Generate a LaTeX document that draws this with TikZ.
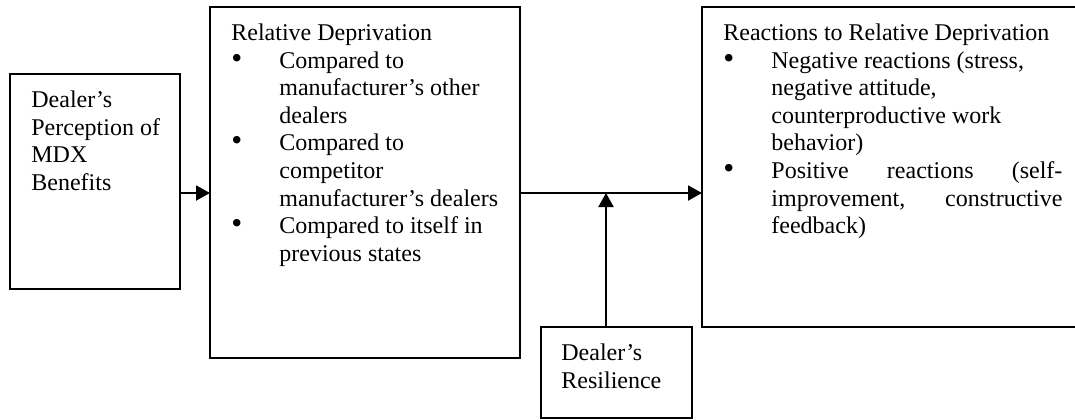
\documentclass[tikz,border=0pt]{standalone}
\usepackage{fontspec}
\setmainfont{Liberation Serif}
\usetikzlibrary{arrows.meta,positioning}

\newcommand{\bul}{\makebox[24pt][l]{\scalebox{1.3}{\textbullet}}}
\newcommand{\cont}{\hspace*{24pt}}

\begin{document}
\begin{tikzpicture}[x=0.5pt, y=-0.5pt,
		box/.style={draw, line width=1pt, anchor=north west, inner sep=0pt, outer sep=0pt},
		txt/.style={anchor=north west, inner sep=0pt, align=left, font={\fontsize{12}{13.8}\selectfont}},
		arr/.style={line width=1pt, -{Triangle[length=7pt, width=7.5pt]}}]
	\useasboundingbox (0,0) rectangle (1075,419);
	\clip (0,0) rectangle (1075,419);

	% boxes
	\node[box, minimum width=85pt, minimum height=107.5pt] (perc) at (10,74) {};
	\node[box, minimum width=155pt, minimum height=175.5pt] (rd) at (210,7) {};
	\node[box, minimum width=200pt, minimum height=160pt] (react) at (702,7) {};
	\node[box, minimum width=75.5pt, minimum height=45.5pt] (res) at (541,327) {};

	% texts
	\node[txt] (perc-text) at ([shift={(21,13.7)}]perc.north west) {\strut Dealer's\\Perception of\\MDX\\Benefits};
	\node[txt] (rd-text) at ([shift={(21,13.7)}]rd.north west) {\strut Relative Deprivation\\
		\bul Compared to\\
		\cont manufacturer's other\\
		\cont dealers\\
		\bul Compared to\\
		\cont competitor\\
		\cont manufacturer's dealers\\
		\bul Compared to itself in\\
		\cont previous states};
	\node[txt] (react-text) at ([shift={(21,13.7)}]react.north west) {\strut Reactions to Relative Deprivation\\
		\bul Negative reactions (stress,\\
		\cont negative attitude,\\
		\cont counterproductive work\\
		\cont behavior)\\
		\bul \makebox[145.5pt][s]{Positive reactions (self-}\\
		\cont \makebox[145.5pt][s]{improvement, constructive}\\
		\cont feedback)};
	\node[txt] (res-text) at ([shift={(20,13.7)}]res.north west) {\strut Dealer's\\Resilience};

	% arrows
	\coordinate (j) at (606,193);
	\draw[arr] (perc.east |- j) -- (rd.west |- j);
	\draw[arr] (rd.east |- j) -- (react.west |- j);
	\draw[arr] (j |- res.north) -- (j);
\end{tikzpicture}
\end{document}
